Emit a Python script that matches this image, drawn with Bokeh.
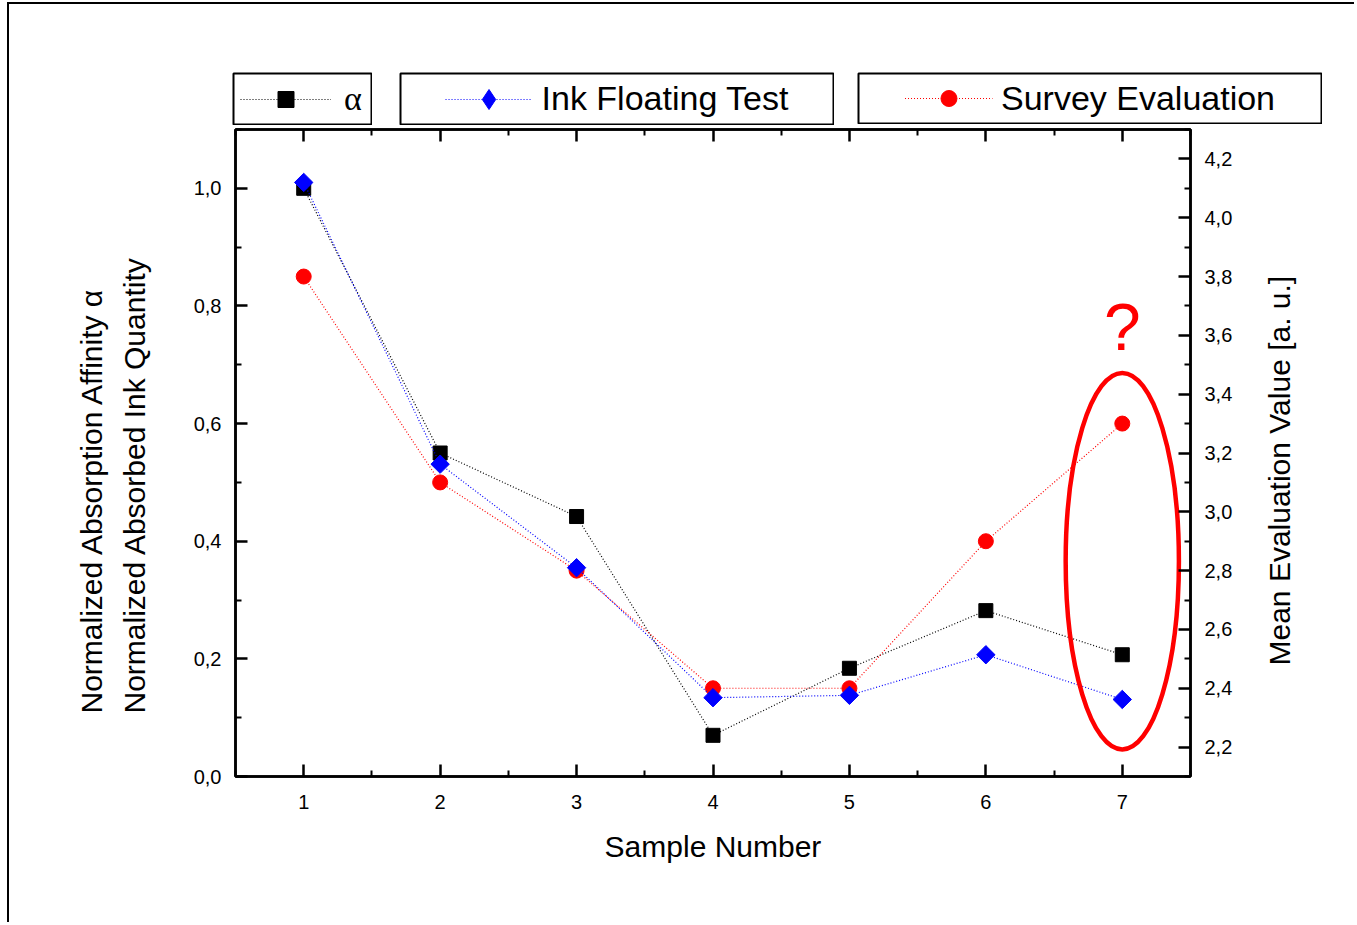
import math
from bokeh.plotting import figure
from bokeh.layouts import column, row
from bokeh.models import (Range1d, LinearAxis, FixedTicker, CustomJSTickFormatter,
                          Legend, LegendItem, Label, Title, Spacer)
from bokeh.embed import file_html
from bokeh.resources import INLINE

# ---------------- data ----------------
samples = [1, 2, 3, 4, 5, 6, 7]
alpha = [1.00, 0.55, 0.442, 0.07, 0.184, 0.282, 0.207]
ink_floating = [1.01, 0.531, 0.355, 0.134, 0.138, 0.207, 0.131]
survey = [3.80, 3.10, 2.80, 2.40, 2.40, 2.90, 3.30]

series_labels = ["\u03b1", "Ink Floating Test", "Survey Evaluation"]

x_minor = [0.5, 1.5, 2.5, 3.5, 4.5, 5.5, 6.5, 7.5]
left_ticks = [0.0, 0.2, 0.4, 0.6, 0.8, 1.0]
left_minor = [0.1, 0.3, 0.5, 0.7, 0.9, 1.1]
right_ticks = [2.2, 2.4, 2.6, 2.8, 3.0, 3.2, 3.4, 3.6, 3.8, 4.0, 4.2]
right_minor = [2.1, 2.3, 2.5, 2.7, 2.9, 3.1, 3.3, 3.5, 3.7, 3.9, 4.1, 4.3]

x_title = "Sample Number"
left_title = "Normalized Absorption Affinity \u03b1\nNormalized Absorbed Ink Quantity"
right_title = "Mean Evaluation Value [a. u.]"

# highlight (ellipse around the last sample)
hl_center_y = 0.366
hl_width = 0.83
hl_height = 0.64
question_y = 0.765

FONT = "Liberation Sans"
TITLE_SIZE = "30px"
DASH = "1 2"
BLACK, BLUE, RED = "#000000", "#0000ff", "#ff0000"

FRAME_H = 647
TOP_B = 4
BOTTOM_B = 146

# ---------------- main figure ----------------
p = figure(frame_width=955, frame_height=FRAME_H,
           min_border_left=226, min_border_right=60,
           min_border_top=TOP_B, min_border_bottom=BOTTOM_B,
           x_range=Range1d(0.5, 7.5), y_range=Range1d(0, 1.1),
           output_backend="svg", toolbar_location=None,
           background_fill_color="white", border_fill_color="white")
p.extra_y_ranges = {"right": Range1d(2.1, 4.3)}
p.xgrid.visible = False
p.ygrid.visible = False
p.outline_line_color = "black"
p.outline_line_width = 2.5

JS_FMT = "return tick.toFixed(1).replace('.', ',');"


def style_axis(ax):
    ax.axis_line_width = 2.5
    ax.axis_line_color = "black"
    ax.major_tick_in = 12
    ax.major_tick_out = 0
    ax.minor_tick_in = 6
    ax.minor_tick_out = 0
    ax.major_tick_line_width = 2.5
    ax.minor_tick_line_width = 2
    ax.major_tick_line_color = "black"
    ax.minor_tick_line_color = "black"
    ax.major_label_text_font = FONT
    ax.major_label_text_font_size = "20px"
    ax.major_label_text_color = "black"
    ax.major_label_standoff = 14
    ax.axis_label_text_font = FONT
    ax.axis_label_text_font_size = TITLE_SIZE
    ax.axis_label_text_font_style = "normal"
    ax.axis_label_text_color = "black"


xa = p.xaxis[0]
xa.ticker = FixedTicker(ticks=samples, minor_ticks=x_minor)
style_axis(xa)
xa.major_label_standoff = 18
xa.axis_label = x_title
xa.axis_label_standoff = 18

ya = p.yaxis[0]
ya.ticker = FixedTicker(ticks=left_ticks, minor_ticks=left_minor)
ya.formatter = CustomJSTickFormatter(code=JS_FMT)
style_axis(ya)

top_axis = LinearAxis(ticker=FixedTicker(ticks=samples, minor_ticks=x_minor))
style_axis(top_axis)
top_axis.major_label_text_color = None
top_axis.major_label_text_font_size = "0px"
top_axis.major_label_standoff = 0
p.add_layout(top_axis, "above")

right_axis = LinearAxis(y_range_name="right",
                        ticker=FixedTicker(ticks=right_ticks, minor_ticks=right_minor),
                        formatter=CustomJSTickFormatter(code=JS_FMT))
style_axis(right_axis)
p.add_layout(right_axis, "right")

# two-line left title, placed next to the left axis
p.add_layout(Title(text=left_title, align="left", offset=63, vertical_align="bottom",
                   standoff=78, text_font=FONT, text_font_size=TITLE_SIZE,
                   text_font_style="normal", text_color="black",
                   text_line_height=1.33), "left")

# ---------------- series ----------------
r_a_line = p.line(samples, alpha, line_color=BLACK, line_dash=DASH, line_width=1.2)
r_a_pts = p.scatter(samples, alpha, marker="square", size=14,
                    fill_color=BLACK, line_color=BLACK)

r_s_line = p.line(samples, survey, line_color=RED, line_dash=DASH, line_width=1.2,
                  y_range_name="right")
r_s_pts = p.scatter(samples, survey, marker="circle", size=15,
                    fill_color=RED, line_color=RED, y_range_name="right")

r_i_line = p.line(samples, ink_floating, line_color=BLUE, line_dash=DASH, line_width=1.2)
r_i_pts = p.scatter(samples, ink_floating, marker="square", size=13, angle=math.pi / 4,
                    fill_color=BLUE, line_color=BLUE)

# highlight ellipse and question mark
p.ellipse(x=[samples[-1]], y=[hl_center_y], width=[hl_width], height=[hl_height],
          fill_color=None, line_color=RED, line_width=4.5)
p.add_layout(Label(x=samples[-1], y=question_y, text="?", text_align="center",
                   text_baseline="middle", text_color=RED,
                   text_font=FONT, text_font_size="66px"))

# ---------------- right-hand title (reads bottom to top) ----------------
tf = figure(frame_width=10, frame_height=FRAME_H, min_border_left=0, min_border_right=0,
            min_border_top=TOP_B, min_border_bottom=BOTTOM_B,
            x_axis_type=None, y_axis_type=None, toolbar_location=None,
            output_backend="svg", background_fill_color="white",
            border_fill_color="white")
tf.outline_line_color = None
tf.xgrid.visible = False
tf.ygrid.visible = False
tf.add_layout(Title(text=right_title, align="left", offset=111, vertical_align="middle",
                    standoff=22, text_font=FONT, text_font_size=TITLE_SIZE,
                    text_font_style="normal", text_color="black"), "left")


# ---------------- legend boxes (one per series) ----------------
def legend_box(width, height, label, ys, color, marker, font, glyph_width, glyph_height,
               standoff):
    # the series is drawn far outside this small box's ranges, so only the
    # legend swatch of it is visible
    f = figure(width=width, height=height, min_border=1, x_axis_type=None,
               y_axis_type=None, toolbar_location=None, output_backend="svg",
               x_range=Range1d(-100, -99), y_range=Range1d(-100, -99),
               background_fill_color="white", border_fill_color="white")
    f.xgrid.visible = False
    f.ygrid.visible = False
    f.outline_line_color = "black"
    f.outline_line_width = 2
    ln = f.line(samples, ys, line_color=color, line_dash=DASH, line_width=1.2)
    mk = f.scatter(samples, ys, marker=marker, fill_color=color, line_color=color)
    leg = Legend(items=[LegendItem(label=label, renderers=[ln, mk])], location="center",
                 orientation="horizontal", padding=0, margin=0,
                 glyph_width=glyph_width, glyph_height=glyph_height, label_height=40,
                 label_standoff=standoff, border_line_color=None,
                 background_fill_alpha=0, label_text_font=font,
                 label_text_font_size="34px", label_text_color="black")
    f.add_layout(leg)
    return f


leg_a = legend_box(140, 53, series_labels[0], alpha, BLACK, "square",
                   "Liberation Serif", 91, 40, 13)
leg_i = legend_box(435, 53, series_labels[1], ink_floating, BLUE, "diamond",
                   FONT, 87, 50, 10)
leg_s = legend_box(465, 52, series_labels[2], survey, RED, "circle", FONT, 88, 40, 9)

legend_row = row(Spacer(width=223, height=53), leg_a, Spacer(width=27, height=53),
                 leg_i, Spacer(width=23, height=53), leg_s, Spacer(width=32, height=53))

layout = column(Spacer(width=10, height=68), legend_row, row(p, tf),
                styles={"border-top": "2px solid #000", "border-left": "2px solid #000",
                        "margin-left": "7px", "margin-top": "2px"})

open("out.html", "w").write(file_html(layout, INLINE))
